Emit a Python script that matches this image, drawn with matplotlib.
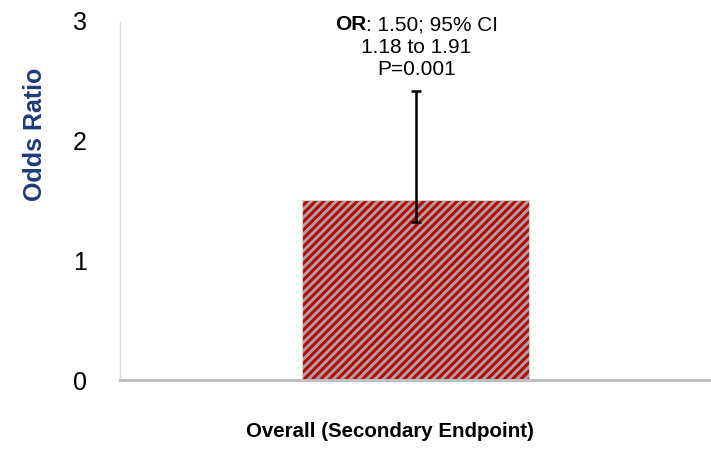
import matplotlib
matplotlib.use("Agg")
import matplotlib.pyplot as plt
import matplotlib.transforms as mtransforms

# Data
categories = ["Overall (Secondary Endpoint)"]
odds_ratio = [1.50]
err_minus = [0.18]
err_plus = [0.91]
annotation_lines = ["1.18 to 1.91", "P=0.001"]
y_ticks = [0, 1, 2, 3]

plt.rcParams["font.family"] = ["Liberation Sans", "DejaVu Sans"]
plt.rcParams["hatch.linewidth"] = 2.2

fig = plt.figure(figsize=(7.11, 4.69), dpi=100)
ax = fig.add_axes([120 / 711, 1 - 380 / 469, 591 / 711, 360 / 469])

x = list(range(len(categories)))
# Hatched fill (hatch takes the edge colour), then a light outline on top
ax.bar(x, odds_ratio, width=0.384, color="#A6A6A6", edgecolor="#C00000",
       linewidth=0, hatch="////", zorder=2)
ax.bar(x, odds_ratio, width=0.384, fill=False, edgecolor="#D6D6D6",
       linewidth=0.8, zorder=2.5)
ax.errorbar(x, odds_ratio, yerr=[err_minus, err_plus], fmt="none",
            ecolor="black", elinewidth=1.8, capsize=3.6, capthick=1.8, zorder=3)

ax.set_xlim(-0.5, 0.5)
ax.set_ylim(0, 3)
ax.set_yticks(y_ticks)
ax.set_yticklabels([str(t) for t in y_ticks], fontsize=18, color="#000000")
ax.tick_params(axis="y", length=0, pad=24)
ax.set_xticks(x)
ax.set_xticklabels(categories, fontsize=14.8, fontweight="bold")
ax.tick_params(axis="x", length=0, pad=30)
shift = mtransforms.ScaledTranslation(-26 / 100, 0, fig.dpi_scale_trans)
for lbl in ax.get_xticklabels():
    lbl.set_transform(lbl.get_transform() + shift)

ax.set_ylabel("Odds Ratio", fontsize=18, fontweight="bold", color="#1F3A7A")
ax.yaxis.set_label_coords(-73 / 591, 0.683)

for side in ("top", "right"):
    ax.spines[side].set_visible(False)
ax.spines["left"].set_color("#D9D9D9")
ax.spines["left"].set_linewidth(1.0)
ax.spines["left"].set_bounds(0, 2.98)
ax.spines["bottom"].set_color("#BFBFBF")
ax.spines["bottom"].set_linewidth(2.2)

# Statistics annotation above the bar: bold "OR" followed by regular text
fs = 15
renderer = fig.canvas.get_renderer()
t_bold = ax.text(0, 0, "OR", fontsize=fs, fontweight="bold", ha="left",
                 va="baseline")
t_rest = ax.text(0, 0, ": 1.50; 95% CI", fontsize=fs, ha="left", va="baseline")
w_bold = t_bold.get_window_extent(renderer).width
w_rest = t_rest.get_window_extent(renderer).width
x_center_px = ax.transData.transform((x[0], 0))[0] + 1
base_px = 469 - 30
start_px = x_center_px - (w_bold + w_rest) / 2
to_ax = ax.transAxes.inverted()
for t, px in ((t_bold, start_px), (t_rest, start_px + w_bold)):
    t.set_transform(ax.transAxes)
    t.set_position(to_ax.transform((px, base_px)))
    t.set_clip_on(False)
for i, line in enumerate(annotation_lines):
    ax.text(*to_ax.transform((x_center_px, base_px - 22.5 * (i + 1))),
            line, transform=ax.transAxes, fontsize=fs, ha="center",
            va="baseline", clip_on=False)

fig.savefig("out.png", dpi=100)
